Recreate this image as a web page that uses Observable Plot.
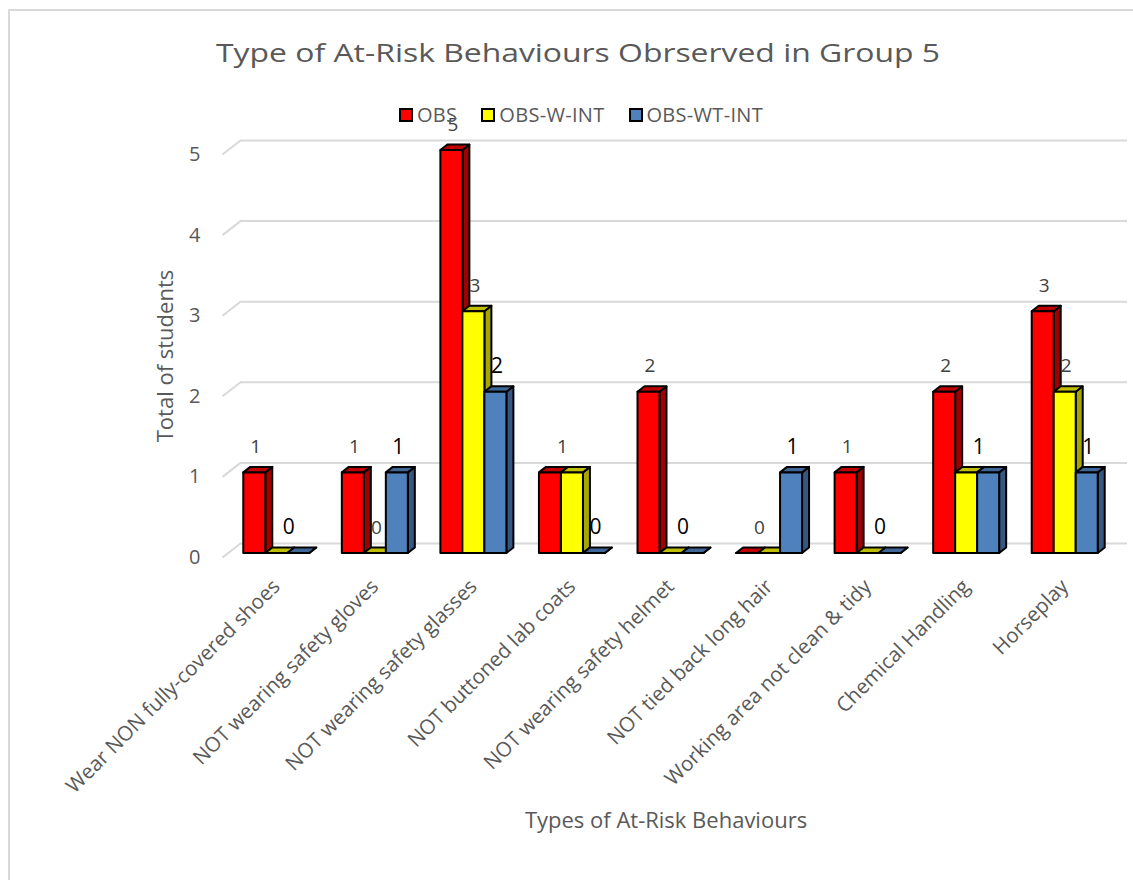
<!DOCTYPE html>
<html>
<head>
<meta charset="utf-8">
<script src="https://cdn.jsdelivr.net/npm/d3@7"></script>
<script src="https://cdn.jsdelivr.net/npm/@observablehq/plot@0.6"></script>
<style>
  body { margin: 0; background: #fff; font-family: "Open Sans", sans-serif; }
  #frame { position: relative; width: 1133px; height: 880px; overflow: hidden; background: #fff; }
  #border { position: absolute; left: 8px; top: 9px; width: 1300px; height: 1000px; border: 2px solid #d9d9d9; box-sizing: border-box; }
  #chart { position: absolute; left: 0; top: 0; }
  #title { position: absolute; top: 35px; left: 578px; transform: translateX(-50%) scaleX(1.275); white-space: nowrap;
           font-size: 25px; font-weight: 400; color: #595959; z-index: 2; }
  #legend { position: absolute; top: 101px; left: 581px; transform: translateX(-50%); display: flex; gap: 24px;
            align-items: center; font-size: 20px; letter-spacing: 0.3px; color: #595959; white-space: nowrap; z-index: 2; }
  #legend .item { display: flex; align-items: center; gap: 4px; }
  #legend .swatch { width: 14px; height: 14px; border: 2px solid #000; box-sizing: border-box; }
</style>
</head>
<body>
<div id="frame">
  <div id="border"></div>
  <div id="chart"></div>
  <div id="title">Type of At-Risk Behaviours Obrserved in Group 5</div>
  <div id="legend"></div>
</div>
<script>
// Behaviour categories along the x axis
const categories = [
  "Wear NON fully-covered shoes",
  "NOT wearing safety gloves",
  "NOT wearing safety glasses",
  "NOT buttoned lab coats",
  "NOT wearing safety helmet",
  "NOT tied back long hair",
  "Working area not clean & tidy",
  "Chemical Handling",
  "Horseplay"
];

// Number of students per behaviour, one array per series
const seriesNames = ["OBS", "OBS-W-INT", "OBS-WT-INT"];
const obs      = [1, 1, 5, 1, 2, 0, 1, 2, 3];
const obsWInt  = [0, 0, 3, 1, 0, 0, 0, 1, 2];
const obsWtInt = [0, 1, 2, 0, 0, 1, 0, 1, 1];
const yTicks   = [0, 1, 2, 3, 4, 5];

const seriesValues = [obs, obsWInt, obsWtInt];

// Face colours of the 3-D columns (front, top, right side)
const palette = [
  { front: "#ff0000", top: "#c00000", side: "#a00000", label: "#404040", labelSize: 19 },
  { front: "#ffff00", top: "#bfbf00", side: "#a6a600", label: "#404040", labelSize: 19 },
  { front: "#4f81bd", top: "#3e6697", side: "#375783", label: "#000000", labelSize: 21 }
];

// Page geometry of the plotting frame (front plane of the 3-D box)
const W = 1133, H = 880;
const mL = 222, mR = 24, mT = 154, mB = 323;
const pxX = (W - mL - mR) / categories.length;   // pixels per category
const pxY = (H - mT - mB) / 5;                   // pixels per student

// 3-D depth offsets, converted to data units
const wallDX = 18, wallDY = -14;                 // back wall in pixels
const offX = 5 / pxX, offY = 4 / pxY;            // column front sits a little behind the frame
const depX = 7 / pxX, depY = 5.5 / pxY;          // column depth
const bw = 22 / pxX;                             // column width

const colLeft = (i, j) => i + 0.5 - 1.5 * bw + j * bw + offX;

// Build quads for every column face
const fronts = [], tops = [], sides = [];
categories.forEach((c, i) => {
  seriesValues.forEach((vals, j) => {
    const v = vals[i];
    const x1 = colLeft(i, j), x2 = x1 + bw;
    const b = offY, t = v + offY;
    const key = `${i}-${j}`;
    const p = palette[j];
    fronts.push({ key, fill: p.front, x1: x1, y1: b, x2: x1, y2: t });
    fronts.push({ key, fill: p.front, x1: x2, y1: b, x2: x2, y2: t });
    tops.push({ key, fill: p.top, x1: x1, y1: t, x2: x2, y2: t });
    tops.push({ key, fill: p.top, x1: x1 + depX, y1: t + depY, x2: x2 + depX, y2: t + depY });
    sides.push({ key, fill: p.side, x1: x2, y1: b, x2: x2, y2: t });
    sides.push({ key, fill: p.side, x1: x2 + depX, y1: b + depY, x2: x2 + depX, y2: t + depY });
  });
});

// Value labels: neighbouring columns with the same value share one label
const labels = [];
categories.forEach((c, i) => {
  let j = 0;
  while (j < seriesValues.length) {
    let k = j;
    while (k + 1 < seriesValues.length && seriesValues[k + 1][i] === seriesValues[j][i]) k++;
    labels.push({ x: colLeft(i, (j + k) / 2) + bw / 2 + 1 / pxX, y: seriesValues[j][i], series: k });
    j = k + 1;
  }
});

const faceOptions = {
  x1: "x1", y1: "y1", x2: "x2", y2: "y2", z: "key", fill: "fill",
  stroke: "#000", strokeWidth: 2, strokeLinejoin: "round"
};

const chart = Plot.plot({
  width: W,
  height: H,
  marginLeft: mL,
  marginRight: mR,
  marginTop: mT,
  marginBottom: mB,
  x: { domain: [0, categories.length], axis: null },
  y: { domain: [0, 5], axis: null },
  color: { type: "identity" },
  style: { fontFamily: "Open Sans, sans-serif", overflow: "visible", background: "transparent" },
  marks: [
    // back-wall gridlines and the slanted left wall
    Plot.ruleY(yTicks, { stroke: "#d9d9d9", strokeWidth: 2, dx: wallDX, dy: wallDY }),
    Plot.link(yTicks, {
      x1: () => 0, y1: d => d,
      x2: () => wallDX / pxX, y2: d => d - wallDY / pxY,
      stroke: "#d9d9d9", strokeWidth: 2
    }),
    // columns
    Plot.area(sides, faceOptions),
    Plot.area(tops, faceOptions),
    Plot.area(fronts, faceOptions),
    // value labels
    Plot.text(labels, {
      x: "x", y: "y", text: d => String(d.y),
      fill: d => palette[d.series].label,
      fontSize: d => palette[d.series].labelSize,
      dy: -30
    }),
    // axes
    Plot.axisY(yTicks, {
      tickSize: 0, tickPadding: 22, fontSize: 20, fill: "#595959", label: null,
      tickFormat: d => String(d)
    }),
    Plot.axisX(categories.map((c, i) => i + 0.5), {
      tickFormat: d => categories[Math.floor(d)],
      tickRotate: -45, tickSize: 0, tickPadding: 20,
      textAnchor: "end", lineAnchor: "top",
      fontSize: 20.5, fill: "#595959", label: null, dx: -1
    }),
    // axis titles
    Plot.text(["Total of students"], {
      frameAnchor: "left", textAnchor: "middle", rotate: -90, dx: -57, fontSize: 22, fill: "#595959"
    }),
    Plot.text(["Types of At-Risk Behaviours"], {
      frameAnchor: "bottom", dy: 270, fontSize: 22, fill: "#595959"
    })
  ]
});
document.getElementById("chart").appendChild(chart);

// Legend
const legend = document.getElementById("legend");
seriesNames.forEach((name, j) => {
  const item = document.createElement("div");
  item.className = "item";
  const sw = document.createElement("div");
  sw.className = "swatch";
  sw.style.background = palette[j].front;
  const label = document.createElement("span");
  label.textContent = name;
  item.appendChild(sw);
  item.appendChild(label);
  legend.appendChild(item);
});
</script>
</body>
</html>
